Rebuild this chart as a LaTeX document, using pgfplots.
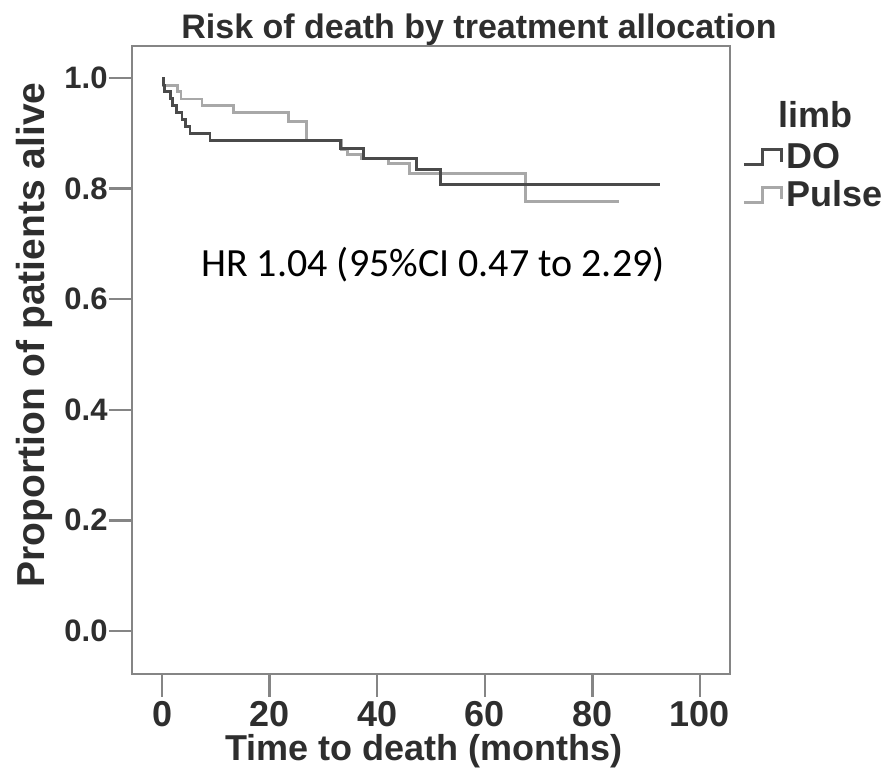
\documentclass[border=0pt]{standalone}
\usepackage{fontspec}
\setmainfont{Liberation Sans}
\newfontfamily\hrfont{Carlito}
\usepackage{pgfplots}
\pgfplotsset{compat=1.18}
\definecolor{txt}{HTML}{2E2E2E}
\definecolor{frame}{HTML}{858585}
\definecolor{dogray}{HTML}{4A4A4A}
\definecolor{pulsegray}{HTML}{A8A8A8}
\begin{document}
\begin{tikzpicture}
\begin{axis}[
  at={(0,0)}, anchor=south west,
  scale only axis, width=299pt, height=314pt,
  xmin=-5.6, xmax=105.6, ymin=-0.078, ymax=1.058,
  axis line style={draw=frame, line width=1.2pt},
  xtick={0,20,40,60,80,100},
  ytick={0,0.2,0.4,0.6,0.8,1.0},
  tick align=outside, major tick length=11.5pt,
  tick style={draw=frame, line width=1.2pt},
  xtick pos=bottom, ytick pos=left,
  /pgf/number format/assume math mode=true,
  xticklabel style={font=\fontsize{18}{20}\selectfont\bfseries, text=txt, inner sep=2pt},
  yticklabel style={font=\fontsize{15.5}{18}\selectfont\bfseries, text=txt, inner sep=0.5pt,
    /pgf/number format/fixed, /pgf/number format/fixed zerofill, /pgf/number format/precision=1},
  legend image code/.code={\draw[#1] (0pt,-3.5pt) -- (9.5pt,-3.5pt) -- (9.5pt,4pt) -- (19pt,4pt) -- (19pt,-2pt);},
  legend style={draw=none, fill=none, at={(axis description cs:1.020,0.85)}, anchor=north west,
    inner sep=0pt, row sep=1.5pt, font=\fontsize{18}{20}\selectfont\bfseries, text=txt,
    nodes={inner sep=1.5pt}},
  legend cell align=left,
]
% Pulse
\addplot[const plot, pulsegray, line width=1.4pt, forget plot] coordinates {
 (0,1) (0.3,0.987) (2.8,0.975) (3.5,0.962) (7.4,0.950) (13.2,0.937) (23.5,0.921)
 (26.8,0.888) (33.3,0.871) (34.5,0.862) (37.0,0.855) (42.1,0.845) (46.0,0.828)
 (67.5,0.777) (85.0,0.777)};
% DO
\addplot[const plot, dogray, line width=1.4pt, forget plot] coordinates {
 (0,1) (0.2,0.9875) (0.5,0.975) (1.5,0.9625) (2.0,0.950) (2.7,0.9375) (3.7,0.925)
 (4.3,0.9125) (5.2,0.900) (8.9,0.8875) (33.1,0.873) (37.4,0.855) (47.3,0.834)
 (51.7,0.807) (92.6,0.807)};
\addlegendimage{dogray, line width=1.4pt}
\addlegendentry{DO}
\addlegendimage{pulsegray, line width=1.4pt}
\addlegendentry{Pulse}
\end{axis}
\node[font=\fontsize{17}{20}\selectfont\bfseries, text=txt] at (173.5pt,322pt) {Risk of death by treatment allocation};
\node[font=\fontsize{18}{20}\selectfont\bfseries, text=txt] at (341.5pt,279.5pt) {limb};
\node[font=\hrfont\fontsize{20}{24}\selectfont, text=black] at (150.5pt,204.5pt) {HR 1.04 (95\%CI 0.47 to 2.29)};
\node[font=\fontsize{18}{20}\selectfont\bfseries, text=txt, inner sep=0pt] at (146pt,-38.5pt) {Time to death (months)};
\node[font=\fontsize{19.5}{22}\selectfont\bfseries, text=txt, rotate=90] at (-49pt,169.5pt) {Proportion of patients alive};
\pgfresetboundingbox
\path[use as bounding box] (-66pt,-48.5pt) rectangle (376pt,337pt);
\end{tikzpicture}
\end{document}
